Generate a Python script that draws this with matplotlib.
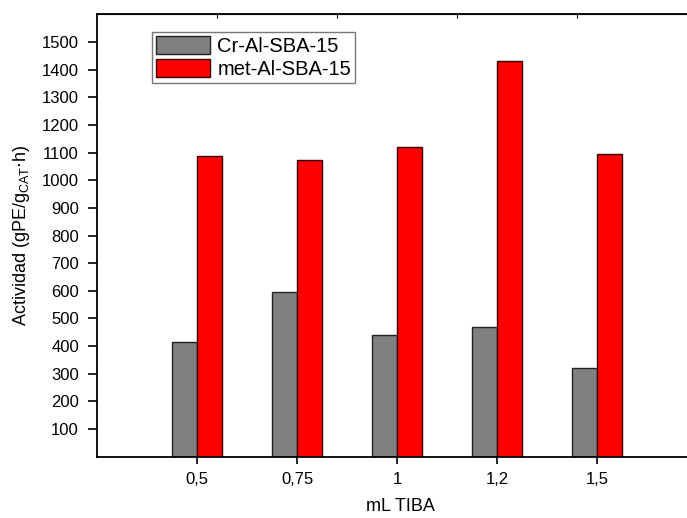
import matplotlib
matplotlib.use("Agg")
import matplotlib.pyplot as plt
import numpy as np

plt.rcParams["font.family"] = ["Liberation Sans", "DejaVu Sans"]

tiba = ["0,5", "0,75", "1", "1,2", "1,5"]
cr_al_sba = [415, 596, 441, 469, 322]
met_al_sba = [1087, 1072, 1121, 1431, 1093]
yticks = list(range(100, 1600, 100))

fig = plt.figure(figsize=(6.87, 5.18), dpi=100)
ax = fig.add_axes([97 / 687, 61.3 / 518, 600 / 687, 442.4 / 518])

x = np.arange(1, len(tiba) + 1)
width = 0.25
ax.bar(x - width / 2, cr_al_sba, width, color="#808080", edgecolor="#222222",
       linewidth=1.0, label="Cr-Al-SBA-15")
ax.bar(x + width / 2, met_al_sba, width, color="#ff0000", edgecolor="#3a0000",
       linewidth=1.0, label="met-Al-SBA-15")

ax.set_xlim(0, 6)
ax.set_ylim(0, 1600)
ax.set_xticks(x)
ax.set_xticklabels(tiba)
ax.set_yticks(yticks)
ax.tick_params(axis="both", labelsize=12, width=1.2, direction="out")
ax.tick_params(axis="y", length=6.5, pad=6.5)
ax.tick_params(axis="x", length=5, pad=6)
for s in ax.spines.values():
    s.set_linewidth(1.3)

# unlabelled ticks along the top spine
top = ax.secondary_xaxis("top")
top.set_xticks(np.arange(1.2, 6.01, 1.2))
top.set_xticklabels([])
top.tick_params(length=3, width=0.8, direction="in")

ax.set_ylabel("Actividad (gPE/g$_{\\mathregular{CAT}}$$\\cdot$h)", fontsize=13)
ax.yaxis.set_label_coords(-0.108, 0.5)
ax.set_xlabel("mL TIBA", fontsize=13)
ax.xaxis.set_label_coords(0.505, -0.094)

leg = ax.legend(loc="upper left", bbox_to_anchor=(55 / 600, 1 - 18 / 442.4),
                fontsize=14.5, frameon=True, fancybox=False, borderaxespad=0,
                handlelength=2.7, handleheight=1.0, handletextpad=0.35,
                labelspacing=0.15, borderpad=0.2)
leg.get_frame().set_edgecolor("#555555")
leg.get_frame().set_linewidth(1.0)

fig.savefig("out.png", dpi=100)
